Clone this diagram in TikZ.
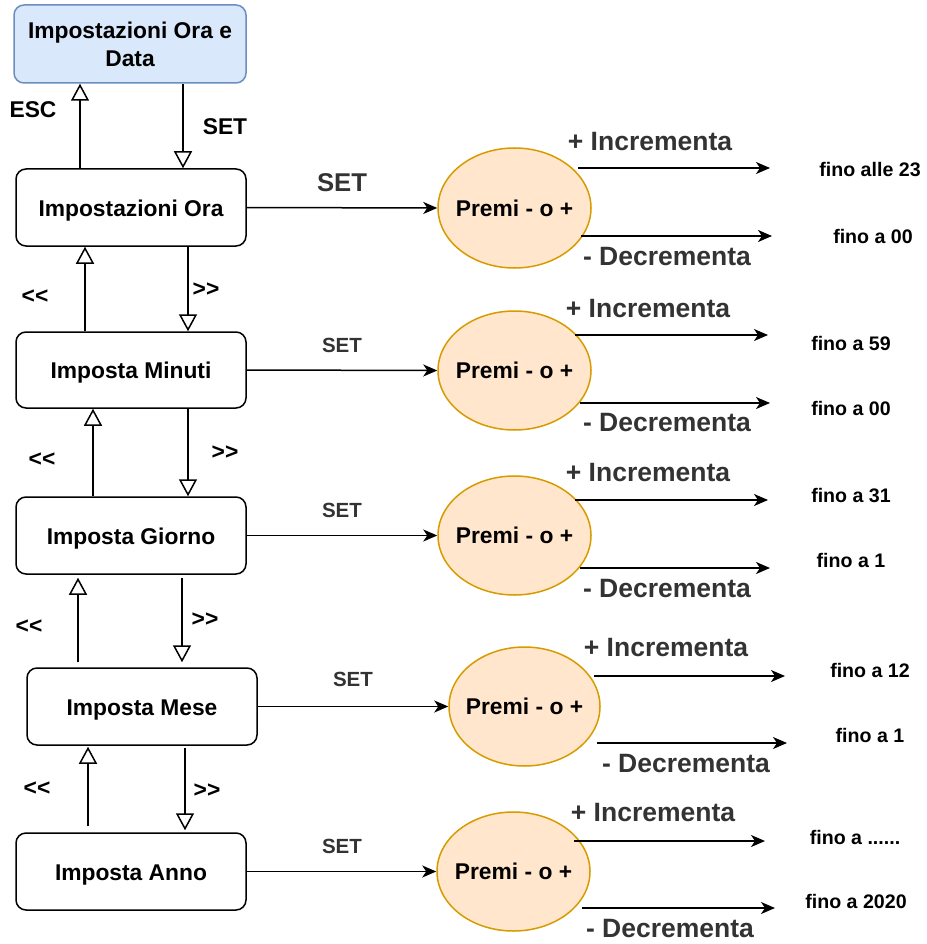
\documentclass[tikz,border=0pt]{standalone}
\usepackage{fontspec}
\setmainfont{Liberation Sans}
\usetikzlibrary{arrows.meta,shapes.geometric}
\definecolor{bluefill}{HTML}{DAE8FC}
\definecolor{bluestroke}{HTML}{6C8EBF}
\definecolor{orfill}{HTML}{FFE6CC}
\definecolor{orstroke}{HTML}{D79B00}
\definecolor{graytxt}{HTML}{333333}
\tikzset{
  basebox/.style={draw=black, line width=1.5pt, rounded corners=10pt, fill=white, minimum width=230pt, minimum height=77pt, inner sep=0pt, font=\bfseries\fontsize{22.8}{28}\selectfont, align=center},
  box/.style={basebox, text height=22pt, text depth=4.5pt},
  topbox/.style={basebox, draw=bluestroke, fill=bluefill, minimum width=232pt, minimum height=78pt},
  oval/.style={ellipse, draw=orstroke, fill=orfill, line width=1.5pt, minimum width=153pt, minimum height=120pt, inner xsep=-25pt, inner ysep=0pt, font=\bfseries\fontsize{22.8}{26}\selectfont},
  conn/.style={line width=1.5pt, -{Stealth[length=14pt,width=12pt,inset=4pt]}},
  nav/.style={line width=1.5pt, -{Triangle[open,length=17pt,width=18pt,fill=white]}},
  lbl/.style={inner sep=0pt, font=\bfseries\fontsize{22.8}{26}\selectfont},
  setbig/.style={inner sep=0pt, text=graytxt, font=\bfseries\fontsize{25.7}{28}\selectfont},
  setsm/.style={inner sep=0pt, text=graytxt, font=\bfseries\fontsize{20.5}{24}\selectfont},
  incdec/.style={inner sep=0pt, text=graytxt, font=\bfseries\fontsize{26.5}{30}\selectfont},
  fino/.style={inner sep=0pt, font=\bfseries\fontsize{19.6}{22}\selectfont},
}
\begin{document}
\begin{tikzpicture}[x=1pt,y=-1pt]
\useasboundingbox (0,0) rectangle (926,944);
% boxes
\node[topbox] (top) at (130,44) {Impostazioni Ora e\\Data};
\node[box] (ora) at (131,207.5) {Impostazioni Ora};
\node[box, minimum height=76pt] (min) at (131,370) {Imposta Minuti};
\node[box] (gio) at (131,535.5) {Imposta Giorno};
\node[box] (mese) at (142,706.5) {Imposta Mese};
\node[box] (anno) at (131,871.5) {Imposta Anno};
% ellipses
\node[oval] (e1) at (514.5,208) {Premi - o +};
\node[oval, minimum height=119pt] (e2) at (514.5,370.5) {Premi - o +};
\node[oval, minimum height=119pt] (e3) at (514.5,535.5) {Premi - o +};
\node[oval, minimum width=151pt, minimum height=119pt] (e4) at (524.5,706.5) {Premi - o +};
\node[oval, minimum height=119pt] (e5) at (513.5,871.5) {Premi - o +};
% vertical navigation
\draw[nav] (ora.north -| 80,0) -- (top.south -| 80,0);
\draw[nav] (top.south -| 183,0) -- (ora.north -| 183,0);
\node[lbl] (esc) at (33,110) {ESC};
\node[lbl] (set0) at (225,127) {SET};
\draw[nav] (min.north -| 85,0) -- (ora.south -| 85,0);
\draw[nav] (ora.south -| 188,0) -- (min.north -| 188,0);
\node[lbl] (l1) at (35,297) {{<}{<}};
\node[lbl] (r1) at (206,290) {{>}{>}};
\draw[nav] (gio.north -| 93,0) -- (min.south -| 93,0);
\draw[nav] (min.south -| 188,0) -- (gio.north -| 188,0);
\node[lbl] (l2) at (42,460) {{<}{<}};
\node[lbl] (r2) at (225,453) {{>}{>}};
\draw[nav, shorten <=5pt, shorten >=3pt] (mese.north -| 78,0) -- (gio.south -| 78,0);
\draw[nav, shorten <=3pt, shorten >=5pt] (gio.south -| 182,0) -- (mese.north -| 182,0);
\node[lbl] (l3) at (29,627) {{<}{<}};
\node[lbl] (r3) at (205,620) {{>}{>}};
\draw[nav, shorten <=6pt, shorten >=1pt] (anno.north -| 88,0) -- (mese.south -| 88,0);
\draw[nav, shorten <=2pt, shorten >=2pt] (mese.south -| 185,0) -- (anno.north -| 185,0);
\node[lbl] (l4) at (37,789) {{<}{<}};
\node[lbl] (r4) at (207,791) {{>}{>}};
% SET connectors
\draw[conn] (ora.east) -- (e1.west);
\node[setbig] (s1) at (342,183) {SET};
\draw[conn] (min.east) -- (e2.west);
\node[setsm] (s2) at (342,345) {SET};
\draw[conn] (gio.east) -- (e3.west);
\node[setsm] (s3) at (342,510) {SET};
\draw[conn] (mese.east) -- (e4.west);
\node[setsm] (s4) at (353,679) {SET};
\draw[conn] (anno.east) -- (e5.west);
\node[setsm] (s5) at (342,846) {SET};
% row 1
\coordinate (i1a) at (578,168); \coordinate (i1b) at (770,168);
\coordinate (d1a) at (581,236); \coordinate (d1b) at (772,236);
\draw[conn] (i1a) -- (i1b);
\draw[conn] (d1a) -- (d1b);
\node[incdec] (inc1) at (650,142) {+ Incrementa};
\node[incdec] (dec1) at (667,257) {- Decrementa};
\node[fino] (f1a) at (870,170) {fino alle 23};
\node[fino] (f1b) at (873,236) {fino a 00};
% row 2
\coordinate (i2a) at (575,335); \coordinate (i2b) at (768,335);
\coordinate (d2a) at (580,403); \coordinate (d2b) at (770,403);
\draw[conn] (i2a) -- (i2b);
\draw[conn] (d2a) -- (d2b);
\node[incdec] (inc2) at (648,309) {+ Incrementa};
\node[incdec] (dec2) at (667,423) {- Decrementa};
\node[fino] (f2a) at (851,343) {fino a 59};
\node[fino] (f2b) at (851,408) {fino a 00};
% row 3
\coordinate (i3a) at (575,500); \coordinate (i3b) at (768,500);
\coordinate (d3a) at (580,568); \coordinate (d3b) at (770,568);
\draw[conn] (i3a) -- (i3b);
\draw[conn] (d3a) -- (d3b);
\node[incdec] (inc3) at (648,473) {+ Incrementa};
\node[incdec] (dec3) at (667,589) {- Decrementa};
\node[fino] (f3a) at (851,496) {fino a 31};
\node[fino] (f3b) at (851,560) {fino a 1};
% row 4
\coordinate (i4a) at (594,676); \coordinate (i4b) at (785,676);
\coordinate (d4a) at (597,743); \coordinate (d4b) at (787,743);
\draw[conn] (i4a) -- (i4b);
\draw[conn] (d4a) -- (d4b);
\node[incdec] (inc4) at (666,648) {+ Incrementa};
\node[incdec] (dec4) at (686,764) {- Decrementa};
\node[fino] (f4a) at (870,670) {fino a 12};
\node[fino] (f4b) at (870,735) {fino a 1};
% row 5
\coordinate (i5a) at (574,841); \coordinate (i5b) at (765,841);
\coordinate (d5a) at (582,908); \coordinate (d5b) at (775,908);
\draw[conn] (i5a) -- (i5b);
\draw[conn] (d5a) -- (d5b);
\node[incdec] (inc5) at (653,813) {+ Incrementa};
\node[incdec] (dec5) at (670,929) {- Decrementa};
\node[fino] (f5a) at (855,837) {fino a ......};
\node[fino] (f5b) at (856,901) {fino a 2020};
\end{tikzpicture}
\end{document}
